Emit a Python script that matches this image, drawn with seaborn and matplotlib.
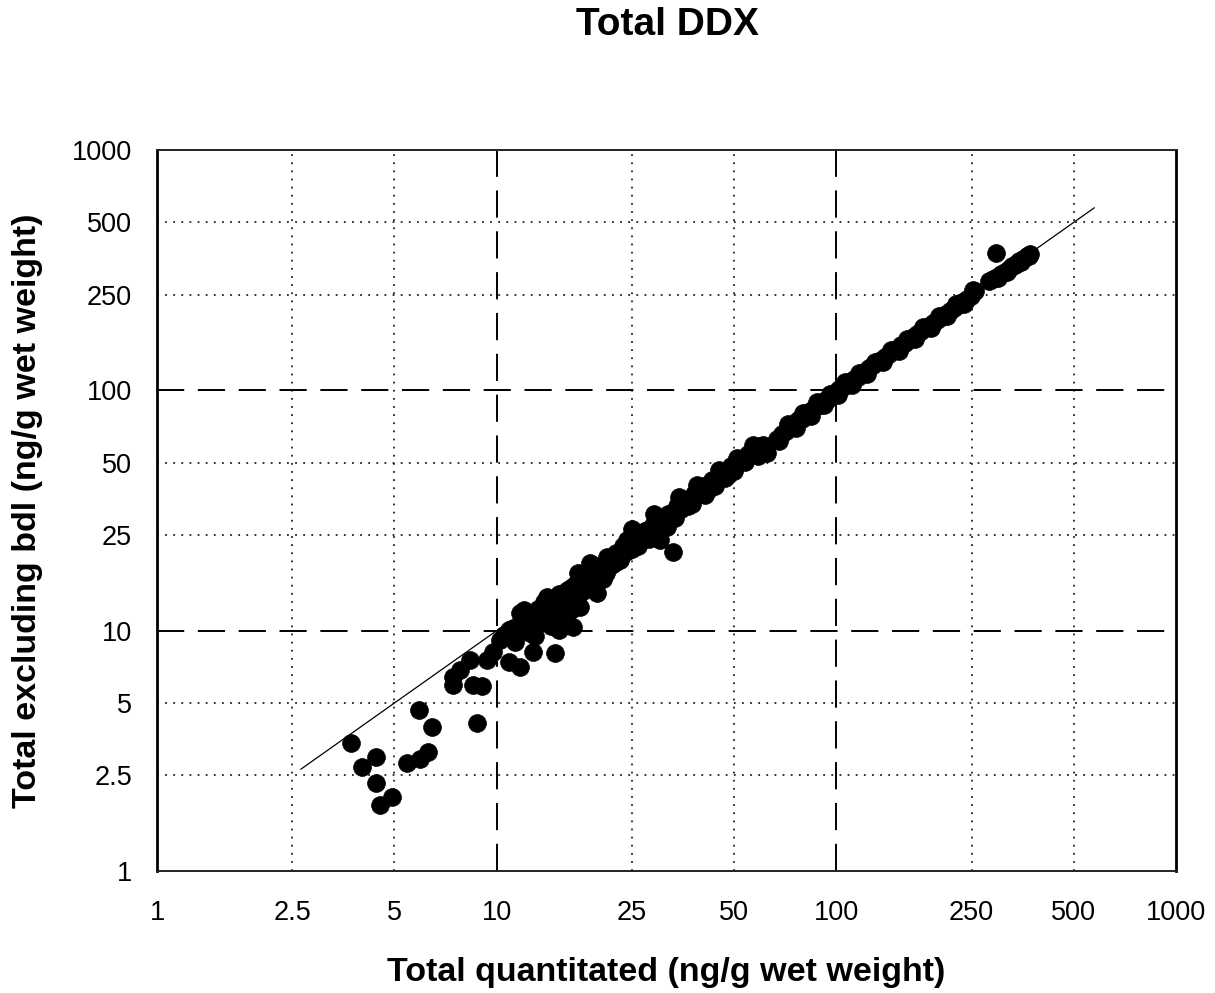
import numpy as np
import pandas as pd
import matplotlib
matplotlib.use("Agg")
import matplotlib.pyplot as plt
from matplotlib.ticker import FixedLocator, NullLocator, FixedFormatter
import seaborn as sns

# Total DDX: sum of quantitated congeners vs. sum excluding below-detection-limit values
total_quantitated = [
    3.73, 4.01, 4.41, 4.41, 4.53, 4.92, 5.45, 5.90, 5.94, 6.28, 6.45,
    7.44, 7.44, 7.80, 8.35, 8.52, 9.05, 8.75, 9.75, 9.36, 10.9, 11.7, 11.7,
    12.8, 14.9, 10.2, 10.9, 12.0, 13.1, 14.1, 15.3, 15.3, 16.8, 17.6, 19.8,
    17.3, 18.8, 21.1, 23.0, 24.2, 27.8, 33.0, 30.2, 31.7,
    10.5, 11.0, 11.3, 11.8, 12.2, 12.5, 12.9, 13.2, 13.5, 13.8, 14.2, 14.6,
    15.0, 15.3, 15.8, 16.2, 16.5, 17.0, 17.4, 17.8, 18.2, 18.6, 19.0, 19.5,
    20.0, 20.5, 21.0, 21.5, 22.0, 22.5, 23.0, 23.6, 24.2, 24.8, 25.4, 26.0,
    26.6, 27.3, 28.0, 28.8, 29.5, 30.3, 31.0, 32.0, 33.0, 34.0, 35.0, 36.0,
    37.0, 38.2, 39.4, 40.6, 41.8, 43.0, 44.5, 46.0, 47.5, 49.0, 50.5, 52.0,
    53.5, 55.0, 56.5, 58.0, 59.5, 61.0, 62.5, 60.0,
    67.0, 69.0, 71.0, 73.0, 75.0, 77.0, 79.0, 81.0, 83.0, 85.0, 87.0, 89.5,
    92.0, 94.5, 97.0, 99.5, 102.0, 104.5, 107.0, 110.0, 113.0, 116.0, 119.0,
    122.0, 125.0, 128.5, 132.0, 135.5, 139.0, 143.0, 147.0, 151.0, 155.0,
    159.0, 163.0, 168.0, 173.0, 178.0, 183.0, 188.0, 193.0, 198.0, 204.0,
    210.0, 216.0, 222.0, 228.0, 235.0, 242.0, 249.0, 256.0,
    282.0, 290.0, 298.0, 306.0, 314.0, 322.0, 330.0, 338.0, 346.0, 355.0,
    364.0, 372.0, 296.0,
    14.0, 15.6, 16.0, 17.0, 18.0, 19.0, 20.5, 21.5, 22.5, 23.5, 25.0, 26.0,
    27.0, 12.0, 13.0, 14.5,
    25.0, 27.0, 29.0, 31.5, 34.5, 36.5, 39.0, 42.0, 45.0, 48.0, 51.0, 54.0,
    57.0, 59.0, 68.0, 72.0, 76.0, 80.0, 84.0, 88.0, 92.0, 96.0, 101.0,
    106.0, 111.0, 117.0, 123.0, 130.0, 137.0, 145.0, 153.0, 161.0, 170.0,
    180.0, 190.0, 200.0, 212.0, 225.0, 238.0, 252.0, 300.0, 318.0, 335.0,
    350.0, 368.0,
    16.5, 18.8, 21.0, 23.0, 28.0, 30.0, 33.5, 37.5, 41.0, 44.0, 47.0, 50.0,
]
total_excluding_bdl = [
    3.41, 2.71, 2.98, 2.32, 1.88, 2.03, 2.81, 4.68, 2.92, 3.13, 3.97,
    5.94, 6.42, 6.86, 7.55, 5.94, 5.89, 4.13, 8.15, 7.55, 7.41, 7.06, 11.85,
    8.15, 8.08, 9.15, 10.07, 12.2, 11.1, 13.8, 11.1, 10.07, 10.4, 12.5, 14.3,
    17.4, 19.1, 20.2, 21.0, 23.9, 26.2, 21.2, 23.9, 27.0,
    9.6, 10.2, 9.0, 10.8, 11.5, 9.8, 10.6, 12.3, 11.0, 13.2, 12.0, 13.6,
    12.8, 14.2, 13.0, 14.8, 12.2, 15.5, 14.0, 16.3, 15.0, 17.2, 16.0, 18.0,
    16.8, 19.0, 17.8, 20.0, 18.9, 21.0, 20.0, 22.5, 21.5, 23.5, 22.4, 24.6,
    23.5, 26.0, 25.0, 27.5, 26.5, 29.0, 28.0, 30.5, 31.0, 33.0, 32.0, 35.0,
    34.5, 37.0, 37.5, 40.0, 39.5, 42.5, 43.0, 45.5, 46.0, 48.5, 49.0, 51.5,
    52.0, 54.5, 55.5, 57.0, 58.5, 59.0, 54.9, 56.0,
    63.0, 66.0, 68.0, 70.5, 72.0, 75.0, 76.0, 79.0, 81.5, 83.0, 86.0, 87.0,
    90.5, 92.0, 95.5, 98.0, 101.0, 103.5, 106.0, 108.0, 112.0, 114.0, 118.0,
    120.0, 124.0, 127.0, 131.0, 134.0, 138.0, 141.0, 146.0, 149.0, 154.0,
    157.0, 162.0, 166.0, 171.0, 176.0, 181.0, 186.0, 191.0, 196.0, 202.0,
    208.0, 213.0, 220.0, 226.0, 232.0, 240.0, 247.0, 258.0,
    285.0, 290.0, 297.0, 304.0, 312.0, 320.0, 328.0, 336.0, 345.0, 353.0,
    362.0, 370.0, 373.0,
    11.8, 12.0, 13.9, 13.2, 14.6, 17.6, 16.4, 18.6, 19.3, 20.8, 21.8, 22.6,
    24.4, 10.0, 9.5, 10.5,
    26.5, 24.0, 30.5, 28.5, 36.0, 33.0, 40.5, 38.5, 46.5, 44.5, 52.5, 50.5,
    59.0, 53.5, 61.5, 72.5, 70.0, 80.5, 78.0, 89.0, 87.0, 97.0, 95.5,
    108.0, 105.0, 118.5, 117.0, 131.5, 131.0, 147.0, 146.0, 164.0, 163.0,
    183.0, 181.0, 203.0, 203.0, 228.0, 228.0, 262.0, 292.0, 310.0, 333.0,
    342.0, 362.0,
    13.6, 15.4, 17.3, 19.6, 24.0, 25.6, 29.5, 33.8, 36.8, 40.0, 43.0, 46.0,
]

# 1:1 reference line
line_x = [2.65, 575.0]
line_y = [2.65, 575.0]

tick_values = [1, 2.5, 5, 10, 25, 50, 100, 250, 500, 1000]
tick_labels = ["1", "2.5", "5", "10", "25", "50", "100", "250", "500", "1000"]
dotted_grid = [2.5, 5, 25, 50, 250, 500]
dashed_grid = [10, 100]

sns.set_theme(style="white")
plt.rcParams["font.family"] = ["Liberation Sans", "DejaVu Sans"]
plt.rcParams["text.color"] = "black"
plt.rcParams["axes.labelcolor"] = "black"

df = pd.DataFrame({"quant": total_quantitated, "excl": total_excluding_bdl})
lines = pd.DataFrame({"x": line_x, "y": line_y})

fig = plt.figure(figsize=(12.15, 9.93), dpi=100)
ax = fig.add_axes([157 / 1215, 1 - 871 / 993, (1176 - 157) / 1215, (871 - 150) / 993])
ax.set_xscale("log")
ax.set_yscale("log")
ax.set_xlim(1, 1000)
ax.set_ylim(1, 1000)

for v in dotted_grid:
    ax.axvline(v, color="#222222", lw=1.3, ls=(0, (1, 3.5)), zorder=1)
    ax.axhline(v, color="#222222", lw=1.3, ls=(0, (1, 3.5)), zorder=1)
for v in dashed_grid:
    ax.axvline(v, color="black", lw=1.4, ls=(0, (14, 7)), zorder=1)
    ax.axhline(v, color="black", lw=1.4, ls=(0, (14, 7)), zorder=1)

sns.lineplot(data=lines, x="x", y="y", ax=ax, color="black", lw=0.9, zorder=2)
sns.scatterplot(data=df, x="quant", y="excl", ax=ax, color="black",
                edgecolor="black", s=165, marker="o", linewidth=0.5, zorder=3)

ax.xaxis.set_major_locator(FixedLocator(tick_values))
ax.yaxis.set_major_locator(FixedLocator(tick_values))
ax.xaxis.set_major_formatter(FixedFormatter(tick_labels))
ax.yaxis.set_major_formatter(FixedFormatter(tick_labels))
ax.xaxis.set_minor_locator(NullLocator())
ax.yaxis.set_minor_locator(NullLocator())
ax.tick_params(axis="both", which="major", direction="out", length=7, width=1.5,
               color="black", labelsize=19.5, labelcolor="black")
ax.tick_params(axis="x", pad=14)
ax.tick_params(axis="y", pad=11)

for side in ["left", "right"]:
    ax.spines[side].set_linewidth(2.0)
    ax.spines[side].set_color("black")
for side in ["top", "bottom"]:
    ax.spines[side].set_linewidth(1.4)
    ax.spines[side].set_color("#222222")

ax.set_xlabel("Total quantitated (ng/g wet weight)", fontsize=24.5, fontweight="bold", color="black")
ax.set_ylabel("Total excluding bdl (ng/g wet weight)", fontsize=24.5, fontweight="bold", color="black")
ax.xaxis.set_label_coords(0.5, -(972 - 871) / (871 - 150))
ax.xaxis.label.set_va("center")
ax.yaxis.set_label_coords(-(157 - 28) / (1176 - 157), 0.5)
ax.yaxis.label.set_va("center")
fig.text(667 / 1215, 1 - 25 / 993, "Total DDX", ha="center", va="center",
         fontsize=28, fontweight="bold", color="black")

fig.savefig("out.png", dpi=100, facecolor="white")
